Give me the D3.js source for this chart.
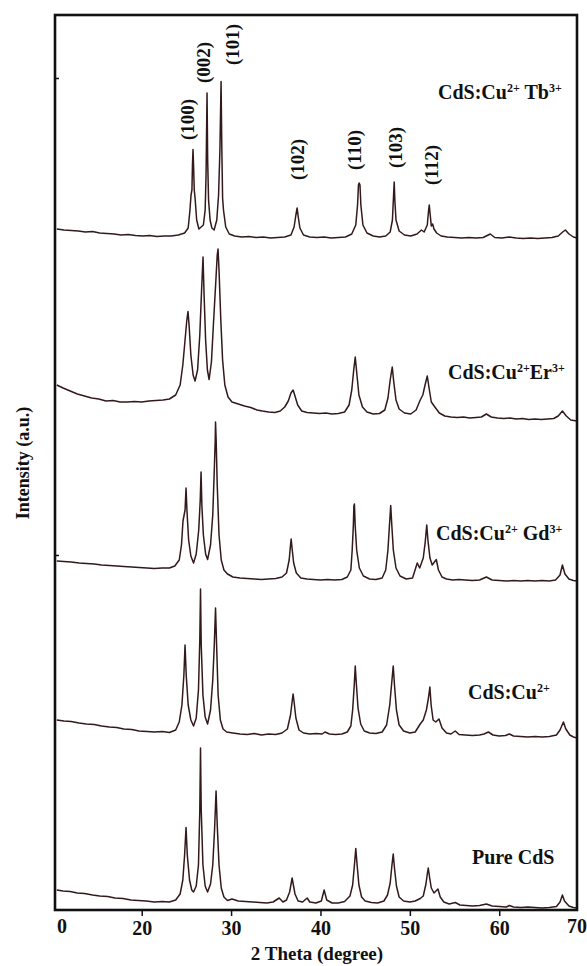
<!DOCTYPE html>
<html>
<head>
<meta charset="utf-8">
<script src="https://cdn.jsdelivr.net/npm/d3@7/dist/d3.min.js"></script>
<style>
body { margin: 0; background: #fff; }
svg text { font-family: "Liberation Serif", "Times New Roman", serif; font-weight: bold; fill: #111; }
</style>
</head>
<body>
<div id="xrd"></div>
<script>
// 2 theta (deg), intensity (a.u., already stacked)
var pureCdS = [[10.5,20],[11.2,19],[12.0,18.5],[12.8,17],[13.6,16.5],[14.5,15],[15.3,14],[16.2,13.5],[17.0,12],[17.9,11.5],[18.8,10],[19.6,9.5],[20.5,9],[21.4,8],[22.3,8.5],[23.1,8],[23.8,10],
  [24.3,16],[24.6,30],[24.8,55],[24.96,82.5],[25.1,55],[25.35,30],[25.6,20],[25.8,18],
  [26.1,24],[26.35,45],[26.5,100],[26.58,162],[26.66,100],[26.85,45],[27.1,24],[27.37,18],
  [27.7,26],[27.95,45],[28.15,80],[28.32,119],[28.45,85],[28.65,45],[28.9,22],[29.2,13],[29.6,9.5],
  [30.1,11],[30.8,9],[31.6,8.5],[32.4,8],[33.2,7.5],[34.0,7],[34.7,8],[35.38,12],[35.8,8],
  [36.2,10],[36.55,18],[36.75,28],[36.83,32],[36.95,26],[37.15,16],[37.5,9],[38.0,8],[38.51,12],[38.8,8],[39.5,7],[40.1,9],[40.41,20],[40.7,10],[41.3,7],[42.0,7],[42.7,8.5],[43.3,14],
  [43.6,25],[43.8,45],[43.95,61.5],[44.1,45],[44.3,25],[44.6,13],[45.0,9],[45.7,7.5],[46.4,7],[47.1,9],[47.5,15],
  [47.8,27],[48.0,45],[48.14,56],[48.28,42],[48.5,24],[48.8,13],[49.3,9],[50.0,8],[50.6,9],[51.16,11.5],[51.5,14],
  [51.8,26],[51.95,36],[52.06,42],[52.2,33],[52.4,22],[52.7,17],[53.14,21],[53.4,13],[53.8,8],[54.4,6],[55.08,7.5],[55.6,5],[56.3,4.5],[57.0,4],[57.8,4.5],[58.56,6],[59.2,4],[60.0,3.5],[60.8,3],[61.13,4.5],[61.6,3],[62.4,2.5],[63.2,3],[64.0,2.5],[64.8,2],[65.6,2.5],[66.4,3.5],[66.8,8],[67.07,15],[67.3,9],[67.8,4],[68.3,2.5],[68.7,2]];

var cdsCu = [[10.5,190],[11.3,189],[12.1,188.5],[13.0,187],[13.8,186],[14.7,185.5],[15.5,184],[16.4,183],[17.2,182.5],[18.0,181],[18.9,180.5],[19.7,179],[20.6,178.5],[21.4,178],[22.3,178.5],[23.1,177.5],[23.8,180],
  [24.2,188],[24.5,205],[24.72,235],[24.85,265],[24.98,235],[25.2,205],[25.5,190],[25.8,184],
  [26.1,192],[26.35,220],[26.5,270],[26.58,321],[26.66,265],[26.85,215],[27.1,193],[27.37,186],
  [27.7,200],[27.95,230],[28.12,265],[28.26,302],[28.38,265],[28.55,215],[28.8,190],[29.1,181],[29.5,178],
  [30.2,177],[31.0,176],[31.8,175.5],[32.6,176.5],[33.4,175],[34.2,176],[35.0,175.5],[35.7,177],
  [36.3,181],[36.65,195],[36.85,210],[36.94,216],[37.05,208],[37.25,192],[37.6,180],[38.1,177],[38.8,176],[39.5,176.5],[40.2,176],[40.5,178],[41.0,176],[41.7,175.5],[42.4,176],[43.0,178],[43.4,184],
  [43.6,200],[43.78,225],[43.89,244],[44.0,228],[44.2,202],[44.5,186],[44.9,179],[45.5,177],[46.2,176.5],[46.9,178],[47.4,185],
  [47.75,205],[47.98,228],[48.14,244],[48.28,225],[48.5,200],[48.8,185],[49.3,179],[50.0,177],[50.6,178],[51.16,186],[51.5,190],
  [51.85,200],[52.08,212],[52.24,223],[52.38,205],[52.6,190],[52.9,188],[53.26,191],[53.6,182],[54.1,177],[54.6,176],[55.08,179],[55.5,175.5],[56.2,175],[57.0,174.5],[57.8,175],[58.3,176],[58.78,178],[59.3,175],[60.0,174],[60.7,174.5],[61.13,176],[61.6,174],[62.4,173.5],[63.2,173],[64.0,173.5],[64.8,173],[65.6,173.5],[66.4,175],[66.8,180],[67.18,188],[67.45,181],[67.9,175],[68.3,173],[68.7,172]];

var cdsCuGd = [[10.5,349],[11.3,348.5],[12.1,348],[13.0,347],[13.8,346.5],[14.7,346],[15.5,345],[16.4,344.5],[17.2,344],[18.0,343.5],[18.9,343],[19.7,342.5],[20.6,342],[21.4,341.5],[22.3,342],[23.1,342],[23.7,344],
  [24.2,350],[24.45,365],[24.62,389],[24.85,400],[24.96,422],[25.06,400],[25.25,370],[25.5,354],[25.8,347],
  [26.1,356],[26.38,380],[26.55,410],[26.64,438],[26.73,405],[26.9,375],[27.15,356],[27.37,350.5],
  [27.7,365],[27.95,395],[28.12,440],[28.22,468],[28.26,488],[28.33,470],[28.45,425],[28.65,375],[28.9,350],[29.2,340],[29.6,336],
  [30.2,333],[31.0,332],[31.8,331.5],[32.6,331],[33.4,330.5],[34.2,331],[35.0,331.5],[35.7,333],
  [36.2,337],[36.5,350],[36.65,365],[36.72,371],[36.82,362],[37.0,347],[37.3,337],[37.8,332],[38.5,331],[39.2,330.5],[40.0,330],[40.8,330.5],[41.6,330],[42.4,330.5],[43.0,333],[43.4,340],
  [43.55,360],[43.68,385],[43.74,404],[43.8,406],[43.88,385],[44.05,360],[44.35,342],[44.8,334],[45.5,331],[46.2,330.5],[46.9,332],[47.3,340],
  [47.55,360],[47.72,385],[47.86,404.5],[47.98,385],[48.15,360],[48.45,342],[48.9,334],[49.6,331],[50.3,332],[50.83,347],[51.1,342],
  [51.5,352],[51.72,368],[51.89,385],[52.02,370],[52.25,352],[52.5,345],[52.75,348],[52.96,350.5],[53.2,340],[53.6,333],[54.1,331],[54.8,330],[55.5,330.5],[56.2,330],[57.0,329.5],[57.8,330],[58.56,333],[59.2,330],[60.0,329.5],[60.8,329],[61.6,329.5],[62.4,329],[63.2,329.5],[64.0,329],[64.8,329.5],[65.6,329],[66.3,330],[66.8,335],[67.07,345],[67.35,336],[67.8,331],[68.3,329.5],[68.7,329]];

var cdsCuEr = [[10.5,525],[11.2,522],[12.0,519],[12.8,516],[13.6,514],[14.4,512],[15.2,511],[16.0,509],[16.8,509.5],[17.6,508],[18.4,508],[19.2,508.5],[20.0,508],[20.8,509],[21.6,509.5],[22.4,510],[23.1,511],[23.8,515],[24.3,525],
  [24.6,545],[24.85,570],[25.05,590],[25.18,598.5],[25.3,585],[25.5,555],[25.75,535],[25.97,529],
  [26.25,540],[26.5,575],[26.7,620],[26.86,653],[26.98,615],[27.15,570],[27.35,540],[27.54,530.5],
  [27.8,548],[28.05,590],[28.3,630],[28.45,655],[28.54,661],[28.65,640],[28.85,590],[29.05,550],[29.3,525],[29.66,513],
  [30.1,508],[30.8,506],[31.5,504],[32.2,502.5],[32.9,500],[33.5,499],[34.2,498],[34.9,497.5],[35.5,499],[36.0,503],
  [36.4,509],[36.7,517],[36.94,520],[37.15,514],[37.45,505],[37.9,499],[38.5,497.5],[39.2,497],[39.9,496.5],[40.6,497],[41.3,496],[42.0,496.5],[42.7,498],[43.2,505],
  [43.5,520],[43.72,540],[43.89,553],[44.05,538],[44.3,515],[44.7,503],[45.2,498],[45.9,496],[46.6,496.5],[47.2,500],[47.55,512],
  [47.8,530],[48.03,543],[48.2,528],[48.45,510],[48.8,501],[49.4,497],[50.1,496],[50.7,500],[51.16,510],[51.45,515],
  [51.7,525],[51.95,534],[52.15,522],[52.4,508],[52.8,503],[53.3,497],[53.9,494],[54.6,493],[55.3,492.5],[56.0,493],[56.7,492],[57.4,492.5],[58.0,493],[58.56,496],[59.1,493],[59.8,492],[60.5,491.5],[61.2,492],[61.9,491],[62.6,491.5],[63.3,490.5],[64.0,491],[64.7,490.5],[65.4,491],[66.1,491.5],[66.6,494],[67.07,499],[67.5,494],[68.0,490],[68.7,489]];

var cdsCuTb = [[10.5,681],[11.3,680],[12.1,679.5],[12.9,679],[13.7,678],[14.5,678.5],[15.3,677],[16.1,676.5],[16.9,676],[17.7,675],[18.5,675.5],[19.3,674.5],[20.1,674],[20.9,674.5],[21.7,673.5],[22.5,674],[23.3,674],[24.1,675],[24.8,677],[25.2,682],
  [25.4,700],[25.52,715],[25.62,720],[25.68,745],[25.74,760.5],[25.8,745],[25.88,720],[25.97,712],[26.15,690],[26.4,681],
  [26.9,685],[27.1,700],[27.2,735],[27.31,817],[27.38,750],[27.48,710],[27.65,690],[27.85,682],[28.1,680],
  [28.4,690],[28.6,715],[28.75,760],[28.88,828.5],[28.95,770],[29.05,712],[29.15,700],[29.4,683],[29.8,676],
  [30.4,674],[31.2,673],[32.0,673.5],[32.8,672.5],[33.6,673],[34.4,672],[35.2,672.5],[36.0,673],[36.7,675],
  [37.05,683],[37.25,695],[37.39,702],[37.5,694],[37.7,682],[38.1,675],[38.8,673],[39.6,672.5],[40.4,673],[41.2,672],[42.0,672.5],[42.8,673],[43.5,676],[43.95,685],
  [44.15,705],[44.25,725],[44.33,727],[44.42,725],[44.52,705],[44.75,685],[45.2,677],[45.9,674],[46.6,673],[47.3,674],[47.8,678],[48.05,690],
  [48.18,715],[48.25,728],[48.32,710],[48.45,690],[48.8,679],[49.4,675],[50.1,674],[50.8,676],[51.3,680],[51.6,678],[51.95,685],
  [52.1,700],[52.17,705],[52.28,695],[52.4,684],[52.55,686],[52.7,681],[53.0,677],[53.5,674],[54.2,673],[55.0,672.5],[55.8,672],[56.6,672.5],[57.4,672],[58.2,672.5],[59.0,676],[59.5,672.5],[60.3,672],[61.1,673],[61.9,672],[62.7,671.5],[63.5,672],[64.3,671.5],[65.1,672],[65.9,672.5],[66.6,674],[67.1,678],[67.4,680],[67.8,676],[68.3,673],[68.7,672]];

var seriesData = [pureCdS, cdsCu, cdsCuGd, cdsCuEr, cdsCuTb];
// label parts: [text, superscript]
var seriesNames = [
  [["Pure CdS", ""]],
  [["CdS:Cu", "2+"]],
  [["CdS:Cu", "2+"], [" Gd", "3+"]],
  [["CdS:Cu", "2+"], ["Er", "3+"]],
  [["CdS:Cu", "2+"], [" Tb", "3+"]]
];

var hklNames = ["(100)", "(002)", "(101)", "(102)", "(110)", "(103)", "(112)"];
var hklTheta = [25.07, 26.86, 30.11, 37.39, 43.77, 48.36, 52.4];
var hklLevel = [770, 827, 845, 730, 740, 742, 725];

var xTicks = [20, 30, 40, 50, 60];
var xEndLabels = ["0", "70"];

var margin = {top: 15, right: 10, bottom: 56, left: 55},
    width = 587 - margin.left - margin.right,
    height = 966 - margin.top - margin.bottom;

var svg = d3.select("#xrd").append("svg")
    .attr("width", 587)
    .attr("height", 966)
    .append("g")
    .attr("transform", "translate(" + margin.left + "," + margin.top + ")");

var x = d3.scaleLinear().domain([10.3, 68.7]).range([0, width]);
var y = d3.scaleLinear().domain([0, 895]).range([height, 0]);

// traces
var line = d3.line()
    .x(function(d) { return x(d[0]); })
    .y(function(d) { return y(d[1]); });

svg.selectAll(".trace")
    .data(seriesData)
    .enter()
    .append("path")
    .attr("class", "trace")
    .attr("d", line)
    .attr("fill", "none")
    .attr("stroke", "#33191b")
    .attr("stroke-width", 1.5)
    .attr("stroke-linejoin", "round");

// bottom axis
var xAxis = d3.axisBottom(x)
    .tickValues(xTicks)
    .tickSizeInner(6)
    .tickSizeOuter(0)
    .tickPadding(5);

var gx = svg.append("g")
    .attr("transform", "translate(0," + height + ")")
    .call(xAxis);
gx.select(".domain").remove();
gx.selectAll("line").attr("stroke", "#111").attr("stroke-width", 1.5);
gx.selectAll("text")
    .style("font-size", "20px")
    .style("font-family", "'Liberation Serif', serif")
    .style("font-weight", "bold")
    .attr("fill", "#111");

// end labels of the axis
gx.selectAll(".endlabel")
    .data(xEndLabels)
    .enter()
    .append("text")
    .attr("class", "endlabel")
    .attr("x", function(d, i) { return i === 0 ? 7 : width; })
    .attr("y", 23)
    .attr("text-anchor", "middle")
    .style("font-size", "20px")
    .text(function(d) { return d; });

// small left ticks
var gy = svg.append("g")
    .call(d3.axisLeft(y).tickValues([355, 832]).tickSizeInner(-4).tickSizeOuter(0).tickFormat(""));
gy.select(".domain").remove();
gy.selectAll("line").attr("stroke", "#111").attr("stroke-width", 1.5);

// frame
svg.append("rect")
    .attr("x", 0)
    .attr("y", 0)
    .attr("width", width)
    .attr("height", height)
    .attr("fill", "none")
    .attr("stroke", "#111")
    .attr("stroke-width", 2.6);

// axis titles
svg.append("text")
    .attr("x", width / 2 + 1)
    .attr("y", height + 50)
    .attr("text-anchor", "middle")
    .style("font-size", "19px")
    .text("2 Theta (degree)");

svg.append("text")
    .attr("transform", "rotate(-90)")
    .attr("x", -(463 - margin.top))
    .attr("y", -26)
    .attr("text-anchor", "middle")
    .style("font-size", "18px")
    .text("Intensity (a.u.)");

// series labels
var labelPos = [[417, 849], [413, 684], [381, 525], [393, 364], [383, 84]];
seriesNames.forEach(function(parts, i) {
    var t = svg.append("text")
        .attr("x", labelPos[i][0])
        .attr("y", labelPos[i][1])
        .style("font-size", "20px");
    parts.forEach(function(p) {
        t.append("tspan").attr("baseline-shift", "0").text(p[0]);
        if (p[1]) {
            t.append("tspan")
                .attr("baseline-shift", "super")
                .style("font-size", "12px")
                .text(p[1]);
        }
    });
});

// hkl labels
svg.selectAll(".hkl")
    .data(hklNames)
    .enter()
    .append("text")
    .attr("class", "hkl")
    .attr("transform", function(d, i) {
        return "translate(" + x(hklTheta[i]) + "," + y(hklLevel[i]) + ") rotate(-90)";
    })
    .attr("dy", "0.35em")
    .style("font-size", "19px")
    .text(function(d) { return d; });
</script>
</body>
</html>
